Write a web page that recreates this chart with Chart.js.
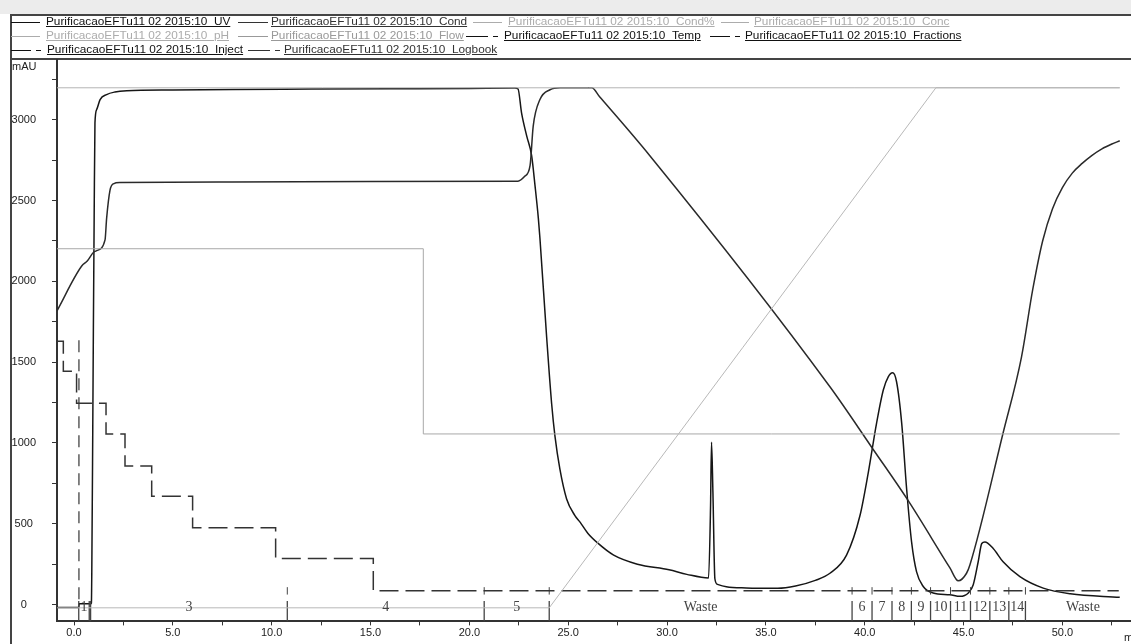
<!DOCTYPE html>
<html>
<head>
<meta charset="utf-8">
<script src="https://cdn.jsdelivr.net/npm/chart.js@4.4.1/dist/chart.umd.min.js"></script>
<style>
body { margin: 0; width: 1131px; height: 644px; overflow: hidden; background: #fff; position: relative; font-family: "Liberation Sans", Arial, sans-serif; }
#topbar { position: absolute; left: 0; top: 0; width: 1131px; height: 14px; background: #ececec; }
#frame { position: absolute; left: 10px; top: 14px; width: 1200px; height: 700px; border-left: 2px solid #444; border-top: 2px solid #444; }
#sep { position: absolute; left: 10px; top: 58px; width: 1131px; height: 2px; background: #444; }
#chart { position: absolute; left: 0; top: 0; }
.lg-text { position: absolute; font-size: 11.8px; line-height: 13px; white-space: nowrap; text-decoration: underline; }
.lg-line { position: absolute; height: 0; border-top: 1px solid; }
</style>
</head>
<body>
<div id="topbar"></div>
<div id="frame"></div>
<div id="sep"></div>
<canvas id="chart" width="1131" height="644"></canvas>
<div id="legend"></div>
<script>
const runName = 'PurificacaoEFTu11 02 2015:10';
const curveNames = ['UV', 'Cond', 'Cond%', 'Conc', 'pH', 'Flow', 'Temp', 'Fractions', 'Inject', 'Logbook'];

// eixo x (min) e eixo y (mAU)
const xTicks = [0, 2.5, 5, 7.5, 10, 12.5, 15, 17.5, 20, 22.5, 25, 27.5, 30, 32.5, 35, 37.5, 40, 42.5, 45, 47.5, 50, 52.5];
const xLabelValues = [0, 5, 10, 15, 20, 25, 30, 35, 40, 45, 50];
const xLabels = ['0.0', '5.0', '10.0', '15.0', '20.0', '25.0', '30.0', '35.0', '40.0', '45.0', '50.0'];
const yTicks = [0, 250, 500, 750, 1000, 1250, 1500, 1750, 2000, 2250, 2500, 2750, 3000, 3250];
const yLabelValues = [0, 500, 1000, 1500, 2000, 2500, 3000];
const yLabels = ['0', '500', '1000', '1500', '2000', '2500', '3000'];

// UV
const uvTime = [-0.86, 0.24, 0.26, 0.85, 0.88, 0.9, 0.95, 0.98, 1.02, 1.06, 1.15, 1.32, 1.65, 2.07, 2.67, 5, 8, 12, 16, 20, 22.3, 22.46,
  22.64, 22.9, 23.15, 23.32, 23.49, 23.57, 23.91, 24.16, 24.33, 24.58, 24.92, 25.34, 25.6, 26.0, 26.5, 27.3, 28.5, 30.1, 31.0, 32.1,
  32.2, 32.25, 32.32, 32.42, 32.55, 33.0, 34.0, 35.6, 36.5, 37.5, 38.24, 39.08, 39.76, 40.18, 40.6, 40.94, 41.19, 41.41, 41.61,
  41.87, 42.12, 42.37, 42.62, 42.96, 43.46, 44.31, 44.82, 45.24, 45.49, 45.74, 45.92, 46.08, 46.5, 47.0, 47.85, 49.03, 50.4, 52.9];
const uvValue = [-18, -18, 5, 5, 10, 200, 1100, 1700, 2400, 2980, 3064, 3125, 3156, 3172, 3180, 3185, 3188, 3190, 3192, 3194, 3196, 3192,
  3043, 2900, 2778, 2594, 2390, 2267, 1654, 1246, 1042, 838, 654, 551, 510, 440, 380, 306, 250, 215, 187, 165,
  600, 1005, 700, 160, 125, 110, 103, 101, 115, 150, 194, 306, 551, 817, 1123, 1328, 1409, 1434, 1379,
  1123, 715, 388, 204, 112, 72, 61, 51, 72, 123, 265, 378, 388, 347, 265, 173, 102, 67, 45];

// Cond
const condTime = [-0.86, 0.39, 0.67, 0.98, 1.15, 1.57, 1.65, 1.82, 1.99, 2.33, 8, 15, 22.46, 22.8, 23.07, 23.23, 23.57, 24.08, 24.6, 26.19,
  26.6, 29.13, 38.24, 40.43, 42.2, 44.31, 44.73, 45.15, 45.32, 47.0, 47.93, 48.5, 49.0, 49.5, 50.0, 50.5, 51.0, 51.5, 52.0, 52.5, 52.9];
const condValue = [1818, 2095, 2126, 2179, 2190, 2257, 2390, 2563, 2604, 2612, 2615, 2618, 2620, 2650, 2716, 2961, 3125, 3186, 3198, 3198,
  3141, 2778, 1348, 960, 643, 227, 147, 194, 245, 1062, 1532, 1950, 2250, 2450, 2580, 2670, 2730, 2780, 2820, 2850, 2870];

// Cond% e Conc (gradiente)
const condPctTime = [-0.86, 52.9];
const condPctValue = [3198, 3198];
const concTime = [-0.86, 24.04, 43.6, 52.9];
const concValue = [-20, -20, 3198, 3198];

// Flow (degrau)
const flowTime = [-0.86, 17.67, 52.9];
const flowValue = [2202, 1056, 1056];

// Temp (degrau tracejado)
const tempTime = [-0.86, -0.54, 0.13, 1.62, 2.58, 3.93, 6.0, 10.2, 15.14, 52.85];
const tempValue = [1630, 1444, 1246, 1056, 858, 670, 476, 286, 86, 86];

// Inject
const injectTime = [0.25, 0.25];
const injectValue = [1636, 0];

// Fractions
const fracNames = ['1', '2', '3', '4', '5', 'Waste', '6', '7', '8', '9', '10', '11', '12', '13', '14', 'Waste'];
const fracStarts = [0.24, 0.77, 0.84, 10.79, 20.75, 24.04, 39.36, 40.37, 41.38, 42.36, 43.33, 44.34, 45.35, 46.33, 47.29, 48.13];
const fracStop = 53.95;
const logbookTime = [10.79, 20.75, 24.04, 39.36, 40.37, 41.38, 42.36, 43.33, 44.34, 45.35, 46.33, 47.29, 48.13];

const zip = (t, v) => t.map((x, i) => ({ x: x, y: v[i] }));

// garis vertikal fraksi, dipisah dengan null
const fracData = [];
fracStarts.forEach(t => { fracData.push({ x: t, y: -104 }, { x: t, y: 22 }, { x: t, y: null }); });
const logbookData = [];
logbookTime.forEach(t => { logbookData.push({ x: t, y: 62 }, { x: t, y: 108 }, { x: t, y: null }); });

// legenda (posisi kotak sampel, teks sesudahnya)
const legendStyle = [
  { x: 11, w: 29, tx: 46, row: 0, color: '#111', dash: false },
  { x: 238, w: 30, tx: 271, row: 0, color: '#333', dash: false },
  { x: 473, w: 29, tx: 508, row: 0, color: '#acacac', dash: false },
  { x: 721, w: 28, tx: 754, row: 0, color: '#acacac', dash: false },
  { x: 11, w: 29, tx: 46, row: 1, color: '#acacac', dash: false },
  { x: 238, w: 30, tx: 271, row: 1, color: '#999', dash: false },
  { x: 466, w: 32, tx: 504, row: 1, color: '#111', dash: true },
  { x: 710, w: 30, tx: 745, row: 1, color: '#111', dash: true },
  { x: 11, w: 30, tx: 47, row: 2, color: '#111', dash: true },
  { x: 248, w: 32, tx: 284, row: 2, color: '#333', dash: true }
];
const rowY = [22, 36, 50];
const legendBox = document.getElementById('legend');
curveNames.forEach((name, i) => {
  const s = legendStyle[i];
  const y = rowY[s.row];
  let html = '';
  if (s.dash) {
    html += `<div class="lg-line" style="left:${s.x}px;top:${y}px;width:${s.w - 10}px;border-color:${s.color}"></div>`;
    html += `<div class="lg-line" style="left:${s.x + s.w - 5}px;top:${y}px;width:5px;border-color:${s.color}"></div>`;
  } else {
    html += `<div class="lg-line" style="left:${s.x}px;top:${y}px;width:${s.w}px;border-color:${s.color}"></div>`;
  }
  html += `<div class="lg-text" style="left:${s.tx}px;top:${y - 7}px;color:${s.color}">${runName}_${name}</div>`;
  legendBox.innerHTML += html;
});

const tickFont = { family: '"Liberation Sans", Arial, sans-serif', size: 11 };

const extraText = {
  id: 'extraText',
  afterDatasetsDraw(chart) {
    const { ctx, scales: { x, y } } = chart;
    ctx.save();
    ctx.font = '14px "Liberation Serif", "Times New Roman", serif';
    ctx.fillStyle = '#444';
    ctx.textAlign = 'center';
    ctx.textBaseline = 'middle';
    fracNames.forEach((n, i) => {
      const a = fracStarts[i];
      const b = i + 1 < fracStarts.length ? fracStarts[i + 1] : fracStop;
      if (b - a < 0.3) return;
      ctx.fillText(n, x.getPixelForValue((a + b) / 2), y.getPixelForValue(-20));
    });
    ctx.font = '11px "Liberation Sans", Arial, sans-serif';
    ctx.fillStyle = '#222';
    ctx.textAlign = 'left';
    ctx.fillText('mAU', 12, 67);
    ctx.textBaseline = 'top';
    ctx.fillText('min', 1124, 632);
    ctx.restore();
  }
};

new Chart(document.getElementById('chart'), {
  type: 'line',
  data: {
    datasets: [
      { label: 'Cond%', data: zip(condPctTime, condPctValue), borderColor: '#b4b4b4', borderWidth: 1 },
      { label: 'Conc', data: zip(concTime, concValue), borderColor: '#b8b8b8', borderWidth: 1 },
      { label: 'Flow', data: zip(flowTime, flowValue), borderColor: '#a8a8a8', borderWidth: 1, stepped: true },
      { label: 'Temp', data: zip(tempTime, tempValue), borderColor: '#333', borderWidth: 1.5, stepped: true, borderDash: [19, 7] },
      { label: 'Inject', data: zip(injectTime, injectValue), borderColor: '#333', borderWidth: 1.2, borderDash: [12, 7] },
      { label: 'Fractions', data: fracData, borderColor: '#444', borderWidth: 1.3 },
      { label: 'Logbook', data: logbookData, borderColor: '#444', borderWidth: 1 },
      { label: 'Cond', data: zip(condTime, condValue), borderColor: '#2a2a2a', borderWidth: 1.5, cubicInterpolationMode: 'monotone' },
      { label: 'UV', data: zip(uvTime, uvValue), borderColor: '#161616', borderWidth: 1.5, cubicInterpolationMode: 'monotone' }
    ]
  },
  options: {
    responsive: false,
    animation: false,
    devicePixelRatio: 1,
    layout: { padding: { top: 60, left: 0, right: 0, bottom: 0 } },
    elements: { point: { radius: 0 }, line: { fill: false } },
    plugins: { legend: { display: false }, tooltip: { enabled: false } },
    scales: {
      x: {
        type: 'linear', min: -0.86, max: 53.47,
        afterBuildTicks: s => { s.ticks = xTicks.map(v => ({ value: v })); },
        afterFit: s => { s.height = 17; },
        ticks: {
          autoSkip: false, maxRotation: 0, padding: 1, color: '#222', font: tickFont,
          callback: v => { const i = xLabelValues.indexOf(v); return i >= 0 ? xLabels[i] : ''; }
        },
        grid: { drawOnChartArea: false, drawTicks: true, tickLength: 4, color: '#333' },
        border: { color: '#333', width: 2 }
      },
      y: {
        type: 'linear', min: -104, max: 3370,
        afterBuildTicks: s => { s.ticks = yTicks.map(v => ({ value: v })); },
        afterFit: s => { s.width = 57; },
        ticks: {
          crossAlign: 'center', padding: 16, color: '#222', font: tickFont,
          callback: v => { const i = yLabelValues.indexOf(v); return i >= 0 ? yLabels[i] : ''; }
        },
        grid: { drawOnChartArea: false, drawTicks: true, tickLength: 5, color: '#333' },
        border: { color: '#333', width: 2 }
      }
    }
  },
  plugins: [extraText]
});
</script>
</body>
</html>
